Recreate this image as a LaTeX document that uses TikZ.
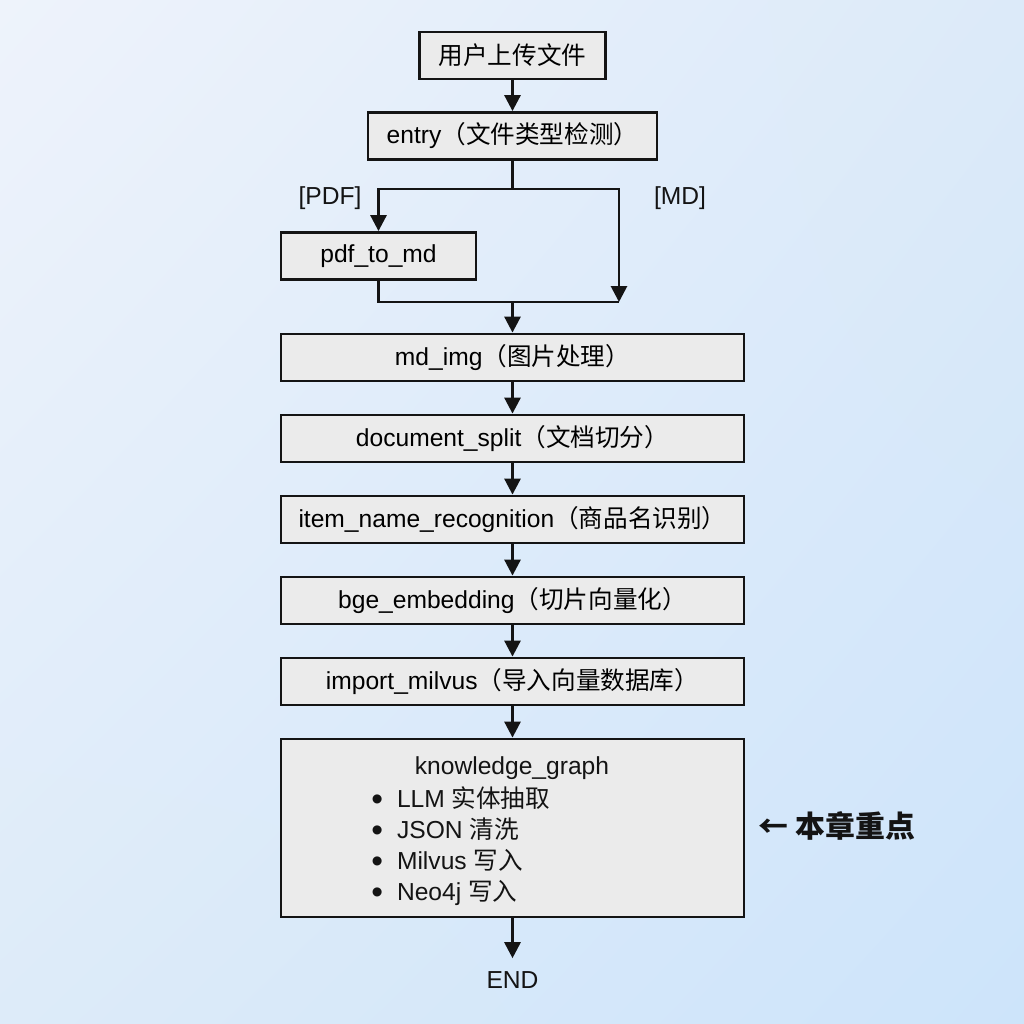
\documentclass[tikz,border=0pt]{standalone}
\usepackage{fontspec}
\usepackage{xcolor}
\setmainfont{Liberation Sans}
\newfontfamily\cjk{Noto Sans CJK SC}
\usetikzlibrary{calc,arrows.meta,shadings}
\newcommand{\zh}[1]{{\cjk #1}}
\newcommand{\bigdot}{\smash{\raisebox{-1.6pt}{\fontsize{19pt}{19pt}\selectfont\textbullet}}}
\definecolor{bgtl}{HTML}{EEF3FB}
\definecolor{bgtr}{HTML}{DCEAF9}
\definecolor{bgbl}{HTML}{DDEBF9}
\definecolor{bgbr}{HTML}{CDE4FA}
\definecolor{boxgray}{HTML}{EBEBEB}
\definecolor{ink}{HTML}{141414}

\begin{document}
\begin{tikzpicture}[x=0.2mm,y=-0.2mm,font=\fontsize{14pt}{17.6pt}\selectfont,
	box/.style={draw=ink,fill=boxgray,line width=1.6pt,minimum height=9.4mm,inner sep=0pt},
	wide/.style={box,minimum width=92.6mm},
	lbl/.style={inner sep=0pt,text=ink}]
		
		\useasboundingbox (0,0) rectangle (1024,1024);
		\shade[upper left=bgtl,upper right=bgtr,lower left=bgbl,lower right=bgbr] (0,0) rectangle (1024,1024);
		
		\node[box,minimum width=37.2mm] (upload) at (512.5,55.5){\zh{用户上传文件}};
		\node[box,minimum width=57.8mm] (entry) at (512.5,136){entry\zh{（文件类型检测）}};
		\node[box,minimum width=39mm] (pdf2md) at (378.5,256){pdf\_to\_md};
		\node[wide] (mdimg) at (512.5,357.5){md\_img\zh{（图片处理）}};
		\node[wide] (split) at (512.5,438.5){document\_split\zh{（文档切分）}};
		\node[wide] (itemname) at (512.5,519.5){item\_name\_recognition\zh{（商品名识别）}};
		\node[wide] (bge) at (512.5,600.5){bge\_embedding\zh{（切片向量化）}};
		\node[wide] (milvus) at (512.5,681.5){import\_milvus\zh{（导入向量数据库）}};
		\node[wide,minimum height=35.6mm] (kg) at (512.5,828){};
		\node[lbl] (kgtitle) at (512,768){knowledge\_graph};
		\node[lbl,anchor=west,align=left] (kglist) at (371,846.5){%
			\bigdot\hspace{2.8mm}LLM \zh{实体抽取}\\
			\bigdot\hspace{2.8mm}JSON \zh{清洗}\\
			\bigdot\hspace{2.8mm}Milvus \zh{写入}\\
			\bigdot\hspace{2.8mm}Neo4j \zh{写入}};
		\node[lbl,inner sep=2.6mm] (end) at (512.5,980){END};
		\node[lbl] (pdflbl) at (330,198){[PDF]};
		\node[lbl] (mdlbl) at (680,198){[MD]};
		\node[lbl,font=\fontsize{17pt}{20pt}\selectfont\bfseries] (focus) at (837,826){\zh{← 本章重点}};
		
		\coordinate (fork) at (512.5,189);
		\coordinate (mdend) at (619,302);
		\coordinate (join) at (512.5,302);
\begin{scope}[line width=1.6pt,draw=ink,-{Triangle[length=3.2mm,width=3.2mm]}]
%branch
\draw[-] (entry) -- (fork);
\draw (fork) -| (pdf2md);
\draw (fork) -| (mdend);
\draw[-] (pdf2md) |- (mdend);
\draw (join) -- (mdimg);
%straight chain
\draw (upload) -- (entry);
\draw (mdimg) -- (split);
\draw (split) -- (itemname);
\draw (itemname) -- (bge);
\draw (bge) -- (milvus);
\draw (milvus) -- (kg);
\draw (kg) -- (end);
\end{scope}
\end{tikzpicture}
\end{document}
